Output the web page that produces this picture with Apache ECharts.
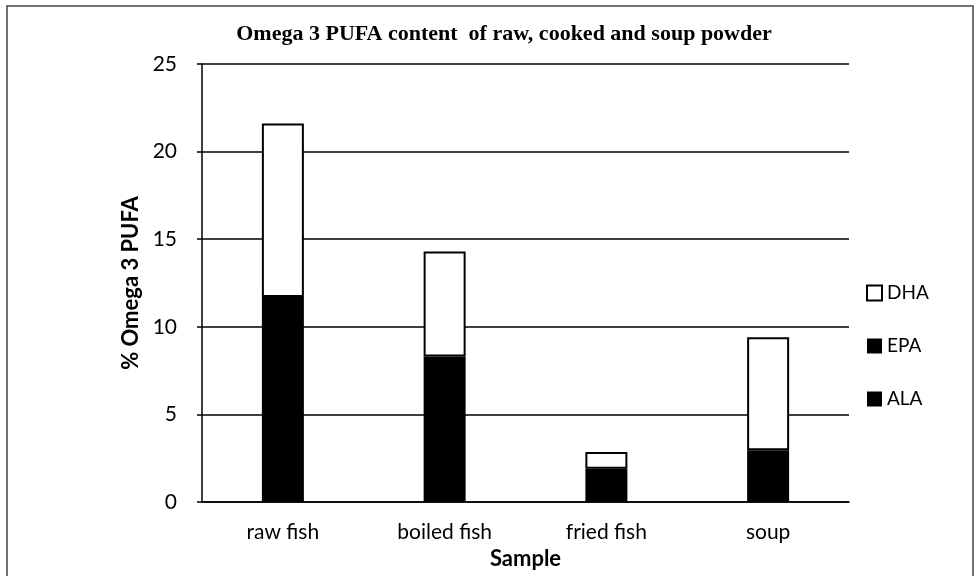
<!DOCTYPE html>
<html>
<head>
<meta charset="utf-8">
<script src="https://cdn.jsdelivr.net/npm/echarts@6/dist/echarts.min.js"></script>
<style>html,body{margin:0;padding:0;background:#fff;}#c{width:979px;height:576px;}</style>
</head>
<body>
<div id="c"></div>
<script>
var categories = ['raw fish', 'boiled fish', 'fried fish', 'soup'];
var ALA = [0, 0, 0, 0];
var EPA = [11.7, 8.3, 1.9, 2.95];
var DHA = [9.9, 6.0, 0.95, 6.45];
var yTicks = [0, 5, 10, 15, 20, 25];

var chart = echarts.init(document.getElementById('c'), null, {renderer: 'canvas'});
var font = 'Lato, "Open Sans", sans-serif';
chart.setOption({
  animation: false,
  backgroundColor: '#fff',
  title: {
    text: 'Omega 3 PUFA content  of raw, cooked and soup powder',
    left: 499, top: 18, textAlign: 'center',
    textStyle: {fontFamily: '"Liberation Serif", "DejaVu Serif", serif', fontWeight: 'bold', fontSize: 22, color: '#000'}
  },
  graphic: [{
    type: 'rect', shape: {x: 7, y: 6, width: 966, height: 600},
    style: {fill: 'none', stroke: '#444', lineWidth: 1.5}, silent: true
  }],
  legend: {
    orient: 'vertical', left: 861, top: 278, itemGap: 33,
    itemWidth: 15, itemHeight: 15, icon: 'rect',
    data: ['DHA', 'EPA', 'ALA'],
    textStyle: {fontFamily: font, fontSize: 19, lineHeight: 20, color: '#000', padding: [0, 0, 0, 0]}
  },
  grid: {left: 202, right: 130, top: 64, bottom: 74, containLabel: false},
  xAxis: {
    type: 'category', data: categories,
    name: 'Sample', nameLocation: 'middle', nameGap: 45,
    nameTextStyle: {fontFamily: font, fontWeight: 'bold', fontSize: 22, color: '#000'},
    axisLine: {lineStyle: {color: '#000', width: 1.5}},
    axisTick: {show: false},
    axisLabel: {fontFamily: font, fontSize: 21, color: '#000', margin: 20}
  },
  yAxis: {
    type: 'value', min: 0, max: 25, interval: 5,
    name: '% Omega 3 PUFA', nameLocation: 'middle', nameGap: 55,
    nameTextStyle: {fontFamily: font, fontWeight: 'bold', fontSize: 22, color: '#000'},
    axisLine: {show: true, lineStyle: {color: '#000', width: 1.5}},
    axisTick: {show: true, length: 5, lineStyle: {color: '#000', width: 1.5}},
    axisLabel: {fontFamily: font, fontSize: 21, color: '#000', margin: 25,
      formatter: function (v) { return yTicks.indexOf(v) >= 0 ? String(v) : ''; }},
    splitLine: {show: true, lineStyle: {color: '#000', width: 1.5}}
  },
  series: [
    {name: 'ALA', type: 'bar', stack: 'o3', data: ALA, barWidth: 42,
      itemStyle: {color: '#000'}},
    {name: 'EPA', type: 'bar', stack: 'o3', data: EPA, barWidth: 42,
      itemStyle: {color: '#000'}},
    {name: 'DHA', type: 'bar', stack: 'o3', data: DHA, barWidth: 42,
      itemStyle: {color: '#fff', borderColor: '#000', borderWidth: 2}}
  ]
});
</script>
</body>
</html>
